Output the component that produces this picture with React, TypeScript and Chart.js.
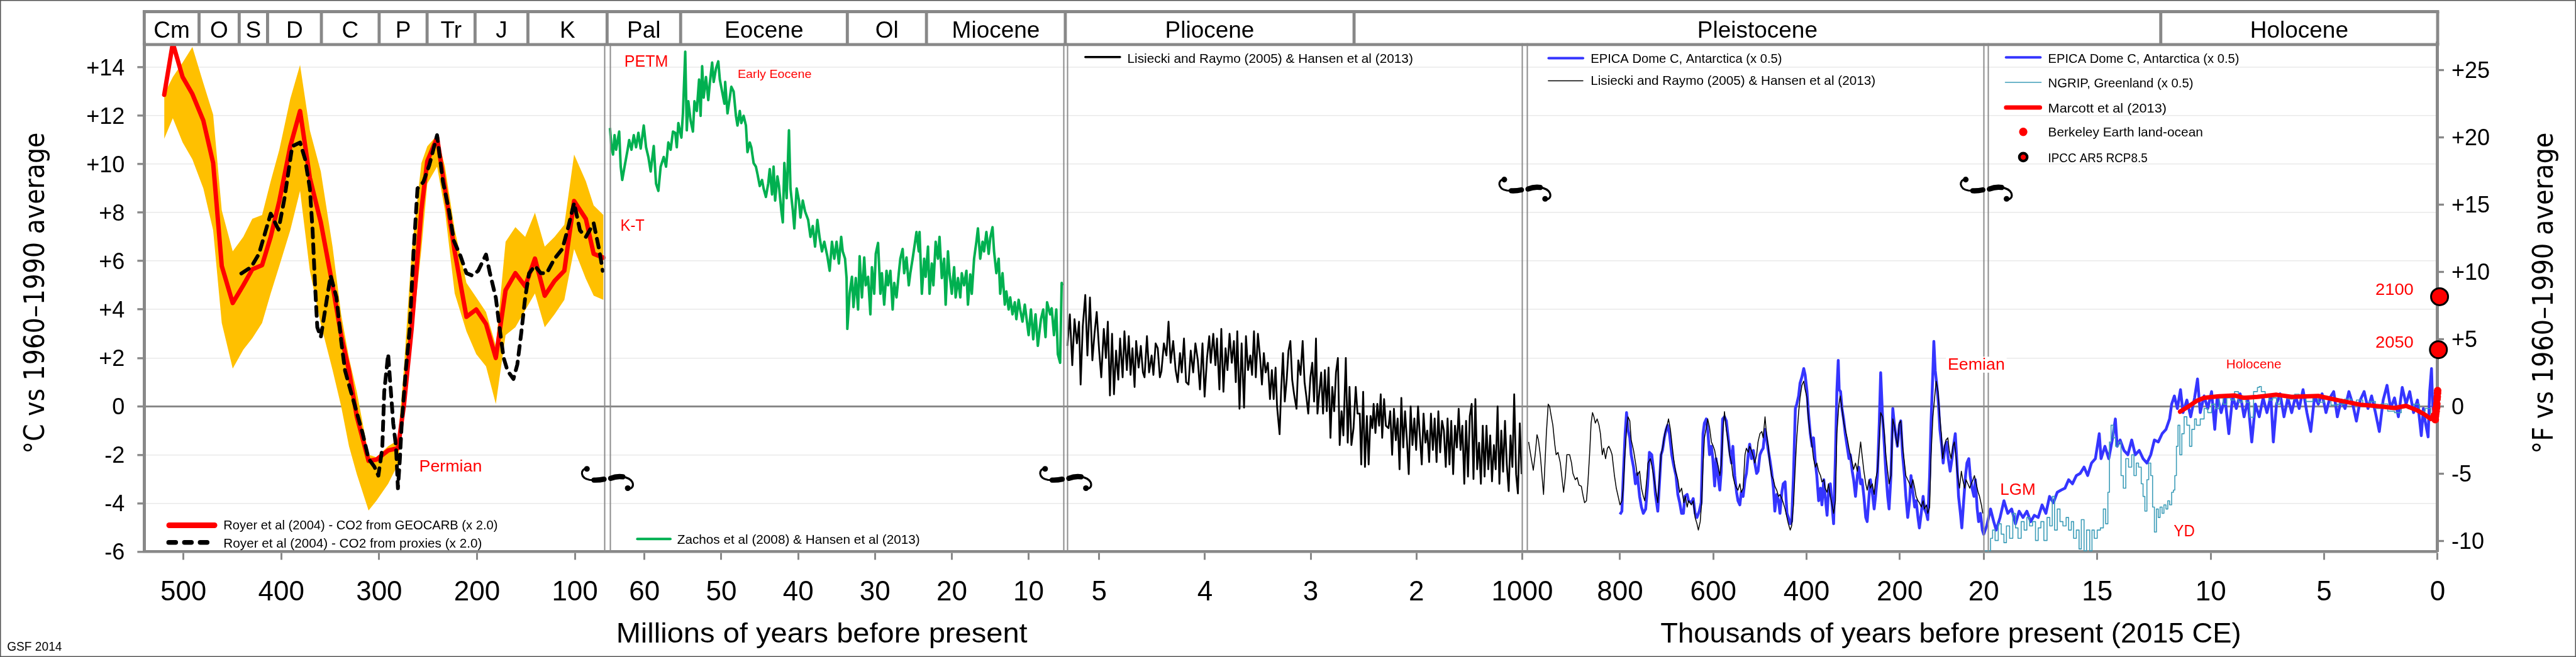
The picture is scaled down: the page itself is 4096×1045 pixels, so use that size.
import React, { useEffect, useRef } from "react";
import { Chart, registerables } from "chart.js";

Chart.register(...registerables);

// ======================= DATA =======================
// Royer et al (2004) – CO2 from GEOCARB (x 2.0), with its uncertainty envelope (Ma, °C)
const ROYER_AGE = [519.6,510.8,500.8,490.8,479.6,469.6,460.8,449.6,438.8,429.6,419.6,410.8,402,390.8,380.8,370.8,359.6,347.6,338.8,330.8,322.8,310.8,302.8,290.8,280.8,274.8,266.8,256.8,250.8,240.8,232.8,222.8,210.8,200.8,190.8,180.8,170.8,160.8,150.8,140.8,130.8,120.8,110.8,100.8,88.8,80.8,70.8];
const ROYER_GEOCARB = [12.87,15.0,13.6,12.9,11.8,10.05,5.8,4.27,5.0,5.66,5.83,7.0,8.48,10.74,12.2,9.44,7.6,5.0,2.94,1.47,-0.43,-2.25,-2.2,-1.82,-1.73,0,3.2,8.14,10.13,11.1,9.0,6.4,3.7,4.0,3.4,2.0,4.8,5.5,4.96,6.1,4.57,5.18,5.6,8.48,7.74,6.3,6.14];
const ROYER_HIGH = [12.9,13.6,14.2,14.84,13.35,12.05,8.1,6.4,7.0,7.75,7.9,9.3,10.6,12.7,14.1,11.4,9.7,6.6,3.8,2.0,0.6,-2.0,-2.1,-1.65,-1.4,1.5,6.4,10.05,10.74,11.2,9.9,7.3,5.1,4.5,3.9,2.5,6.8,7.4,7.0,8.0,6.6,7.0,7.5,10.4,9.3,8.3,7.9];
const ROYER_LOW = [11.05,11.9,10.9,10.2,9.0,7.27,3.44,1.56,2.34,2.81,3.44,4.66,5.8,7.27,8.9,5.6,3.4,1.5,0.0,-1.65,-2.8,-4.3,-3.9,-3.2,-2.4,0.3,2.7,6.5,9.2,9.9,8.1,4.66,3.1,2.16,1.65,0.1,2.94,3.27,3.97,4.66,3.27,3.8,4.4,6.5,5.27,4.57,4.4];
// Royer et al (2004) – CO2 from proxies (x 2.0)  [Ma, °C]
const ROYER_PROXY = [[440.8,5.49],[430.8,5.75],[422.8,6.3],[410.8,7.96],[402.8,7.3],[396.8,8.57],[388.8,10.74],[380.8,10.9],[375.6,10.2],[370.8,9.0],[368,7.27],[365.6,5.1],[363.2,3.27],[359.6,2.86],[349.6,5.4],[343.6,4.5],[338.8,2.7],[334.8,1.47],[328.8,0.6],[322.8,-0.26],[316.8,-1.13],[310.8,-2.16],[304.8,-2.5],[300.8,-2.86],[296.8,-1.73],[294.8,0.6],[290.8,2.16],[288.8,1.04],[285.6,-0.7],[282.8,-1.65],[280.8,-3.38],[278.8,-2.16],[276.8,-0.6],[272.8,1.47],[268.8,3.2],[264.8,6.4],[260.8,9.0],[254.8,9.27],[248.8,9.96],[240.8,11.2],[234.8,9.27],[228.8,8.13],[223.6,6.83],[216.8,6.2],[210.8,5.5],[204.8,5.4],[198.8,5.6],[190.8,6.27],[186.8,5.5],[180.8,4.49],[176.8,3.2],[172.8,2.0],[168.8,1.47],[162.8,1.13],[158.8,1.73],[154.8,3.03],[150.8,4.49],[146.8,5.5],[140.8,5.8],[134.8,5.5],[128.8,5.5],[120.8,6.1],[112.8,6.5],[106.8,7.4],[100.8,8.4],[94.8,7.27],[88.8,7.0],[80.8,7.56],[74.8,6.4],[71.6,5.6]];
// Zachos et al (2008) & Hansen et al (2013)  [Ma, °C]
const ZACHOS = [[64.5,11.5],[64.3,10.7],[64.1,10.4],[63.9,11.2],[63.7,10.6],[63.3,11.35],[63.1,9.9],[62.9,9.35],[62.6,9.9],[62.2,10.6],[62.0,11.0],[61.7,10.6],[61.4,11.2],[61.1,10.7],[60.8,11.3],[60.5,10.65],[60.1,11.6],[59.8,10.7],[59.5,10.3],[59.2,9.7],[58.8,10.75],[58.5,9.2],[58.2,8.9],[57.9,9.9],[57.5,10.3],[57.2,9.9],[56.9,10.9],[56.6,10.6],[56.3,11.35],[56.0,11.3],[55.8,10.7],[55.6,11.7],[55.2,11.1],[55.0,12.1],[54.7,14.65],[54.5,11.4],[54.3,12.6],[54.0,11.8],[53.7,11.35],[53.5,12.6],[53.2,12.2],[52.9,13.5],[52.7,12.0],[52.5,14.05],[52.3,12.75],[52.0,13.6],[51.7,12.65],[51.5,13.35],[51.2,14.2],[51.0,13.4],[50.7,13.95],[50.4,14.25],[50.2,13.5],[49.9,13.0],[49.6,12.5],[49.5,13.4],[49.2,12.1],[48.9,12.75],[48.7,13.2],[48.4,13.0],[48.1,12.0],[47.9,11.6],[47.6,12.2],[47.4,11.7],[47.1,12.0],[46.8,11.6],[46.6,10.5],[46.3,10.9],[46.1,10.7],[45.8,10.05],[45.5,9.9],[45.3,9.6],[45.0,9.1],[44.7,9.35],[44.5,9.0],[44.2,8.65],[43.9,9.2],[43.7,9.8],[43.4,8.75],[43.2,9.9],[43.0,8.5],[42.7,9.5],[42.5,9.1],[42.2,8.1],[42.0,7.6],[41.8,10.05],[41.5,8.6],[41.2,11.4],[41.0,9.0],[40.7,8.1],[40.5,7.35],[40.2,9.0],[39.9,8.5],[39.7,7.8],[39.4,8.5],[39.1,8.05],[38.7,7.7],[38.4,7.0],[38.1,7.45],[37.8,6.6],[37.5,7.7],[37.2,6.95],[36.9,6.4],[36.6,6.8],[36.2,6.2],[35.9,5.6],[35.6,6.8],[35.3,6.1],[35.0,6.8],[34.7,5.9],[34.4,7.0],[34.2,6.4],[33.9,6.1],[33.7,5.3],[33.6,3.2],[33.3,4.66],[33.0,5.35],[32.8,4.1],[32.5,5.3],[32.2,4.0],[32.0,6.2],[31.7,4.5],[31.4,6.15],[31.2,5.0],[30.9,5.35],[30.6,3.8],[30.4,5.75],[30.1,4.65],[29.9,6.3],[29.6,6.75],[29.3,4.65],[29.1,5.5],[28.8,4.2],[28.5,5.6],[28.3,5.0],[28.0,5.6],[27.7,4.0],[27.5,5.1],[27.2,4.5],[26.9,5.5],[26.7,6.1],[26.4,6.5],[26.2,5.5],[25.9,6.15],[25.6,5.0],[25.4,5.5],[25.1,6.1],[24.8,6.75],[24.6,7.2],[24.3,6.4],[24.2,7.2],[23.9,4.65],[23.6,6.1],[23.4,5.35],[23.1,6.6],[22.9,4.65],[22.6,5.9],[22.4,5.0],[22.1,6.8],[21.8,6.1],[21.6,7.0],[21.3,5.3],[21.0,6.1],[20.8,4.2],[20.5,6.4],[20.3,5.5],[20.0,4.65],[19.7,5.75],[19.5,4.5],[19.2,5.3],[18.9,4.5],[18.7,5.5],[18.4,5.0],[18.1,5.6],[17.9,4.2],[17.6,5.45],[17.4,4.65],[17.1,6.1],[16.8,6.8],[16.6,7.35],[16.3,6.1],[16.0,6.8],[15.8,6.4],[15.5,7.2],[15.2,6.3],[15.0,6.95],[14.7,7.4],[14.5,6.4],[14.2,5.5],[13.9,6.1],[13.7,4.65],[13.4,5.5],[13.1,4.2],[12.9,4.75],[12.6,4.0],[12.4,4.5],[12.1,3.8],[11.8,4.3],[11.6,3.6],[11.3,4.4],[11.1,4.0],[10.8,3.5],[10.5,4.2],[10.3,3.7],[10.0,2.94],[9.7,4.0],[9.4,2.77],[9.1,3.8],[8.8,2.5],[8.4,3.6],[8.1,4.0],[7.8,2.86],[7.6,4.3],[7.2,3.8],[7.0,4.05],[6.7,2.94],[6.4,4.0],[6.2,2.16],[5.9,1.8],[5.7,5.1],[5.6,5.0]];
// Lisiecki and Raymo (2005) & Hansen et al (2013), Pliocene panel  [Ma, °C]
const LR04_MA = [[5.3,2.5],[5.277,3.8],[5.254,1.7],[5.233,3.6],[5.21,2.6],[5.19,3.5],[5.175,0.9],[5.155,3.3],[5.131,4.6],[5.111,2.1],[5.087,4.5],[5.064,1.9],[5.044,3.0],[5.023,3.9],[5.0,2.3],[4.98,1.2],[4.956,3.2],[4.936,2.0],[4.918,3.5],[4.898,0.45],[4.878,3.0],[4.86,0.5],[4.84,2.3],[4.819,1.1],[4.802,2.8],[4.778,1.2],[4.761,3.1],[4.738,1.5],[4.72,2.9],[4.703,1.3],[4.685,2.4],[4.665,0.8],[4.65,2.7],[4.627,1.6],[4.606,2.5],[4.586,1.4],[4.571,1.2],[4.548,2.9],[4.528,1.4],[4.504,2.1],[4.487,1.3],[4.466,2.6],[4.446,2.4],[4.426,1.2],[4.411,1.45],[4.388,2.6],[4.364,2.1],[4.344,3.5],[4.324,1.8],[4.3,2.7],[4.277,1.5],[4.257,1.0],[4.236,2.2],[4.219,1.4],[4.198,2.8],[4.178,1.0],[4.155,0.9],[4.134,2.3],[4.111,1.4],[4.09,2.6],[4.067,1.9],[4.047,0.7],[4.023,2.6],[4.003,0.4],[3.98,2.0],[3.959,2.9],[3.945,1.8],[3.921,3.0],[3.901,1.7],[3.886,2.8],[3.863,0.7],[3.845,3.2],[3.825,0.6],[3.805,2.4],[3.787,1.5],[3.767,3.0],[3.746,1.8],[3.726,2.7],[3.708,1.0],[3.694,3.1],[3.673,-0.1],[3.653,2.6],[3.63,-0.05],[3.612,2.9],[3.592,1.5],[3.571,2.1],[3.554,1.3],[3.536,3.1],[3.519,1.2],[3.499,3.0],[3.478,2.0],[3.461,0.9],[3.443,2.2],[3.426,1.4],[3.405,1.8],[3.385,0.3],[3.367,1.5],[3.35,0.3],[3.332,1.6],[3.318,0.0],[3.294,-1.15],[3.28,0.6],[3.262,2.2],[3.245,0.2],[3.227,1.1],[3.21,2.3],[3.192,2.7],[3.175,1.1],[3.157,0.5],[3.134,-0.1],[3.117,1.9],[3.096,1.3],[3.076,2.7],[3.058,1.0],[3.041,0.4],[3.023,-0.3],[3.003,1.2],[2.985,1.8],[2.968,0.2],[2.95,2.8],[2.936,-0.3],[2.918,0.6],[2.901,1.4],[2.883,-0.3],[2.866,1.5],[2.848,-0.2],[2.831,1.6],[2.813,-1.3],[2.796,0.8],[2.778,-0.2],[2.761,1.4],[2.743,2.0],[2.726,-1.6],[2.708,-0.2],[2.691,-1.2],[2.668,2.0],[2.65,-1.5],[2.633,0.8],[2.615,-1.6],[2.595,-0.9],[2.574,0.8],[2.557,-0.3],[2.536,-0.3],[2.522,-2.4],[2.504,0.6],[2.487,-2.5],[2.469,-0.4],[2.452,-2.4],[2.434,-0.4],[2.417,-0.9],[2.405,0.1],[2.388,-1.1],[2.37,0.1],[2.353,-0.8],[2.338,0.5],[2.324,-1.3],[2.306,0.3],[2.289,-0.8],[2.265,-0.9],[2.248,-0.2],[2.23,-2.0],[2.213,-0.1],[2.195,-1.4],[2.178,-0.5],[2.16,-2.6],[2.143,0.35],[2.125,-1.7],[2.108,-0.2],[2.09,-1.4],[2.073,-2.8],[2.055,0.0],[2.038,-1.6],[2.02,-0.5],[2.003,-1.8],[1.985,0.0],[1.968,-1.2],[1.95,-2.4],[1.933,-0.3],[1.915,-1.5],[1.898,-1.0],[1.88,-2.3],[1.863,-0.3],[1.845,-1.8],[1.828,-0.5],[1.81,-2.3],[1.793,-0.2],[1.776,-1.9],[1.758,-0.6],[1.741,-1.0],[1.723,-2.5],[1.706,-0.5],[1.688,-2.4],[1.671,-0.6],[1.653,-2.8],[1.636,-0.8],[1.618,-1.7],[1.601,-0.1],[1.583,-1.8],[1.566,-0.8],[1.548,-3.2],[1.531,-0.6],[1.513,-2.9],[1.496,-0.4],[1.478,0.1],[1.461,-3.0],[1.443,0.3],[1.426,-2.6],[1.408,-1.5],[1.391,-3.2],[1.373,-0.8],[1.356,-2.9],[1.338,-0.8],[1.321,-2.6],[1.303,-1.2],[1.286,-3.1],[1.268,-1.6],[1.251,-2.6],[1.233,0.0],[1.216,-3.2],[1.198,-1.0],[1.181,-2.7],[1.163,-0.6],[1.146,-2.4],[1.128,-3.5],[1.111,-1.2],[1.093,-2.5],[1.076,0.5],[1.058,-2.8],[1.041,-3.6],[1.023,-0.7],[1.006,-2.8]];
// Lisiecki and Raymo (2005) & Hansen et al (2013), Pleistocene panel  [ka, °C]
const LR04_KA = [[996,-1.47],[991,-2.08],[986,-2.64],[982,-2.0],[978,-1.17],[975,-1.39],[971,-2.0],[964,-3.64],[958,-1.13],[954,0.09],[951,0.0],[948,-0.35],[944,-0.78],[940,-1.56],[937,-2.0],[933,-1.9],[928,-2.34],[924,-3.03],[921,-3.55],[917,-2.86],[914,-2.0],[908,-2.0],[904,-2.34],[901,-2.77],[896,-3.03],[892,-2.94],[888,-3.25],[883,-3.3],[879,-3.72],[876,-3.98],[872,-3.9],[869,-3.2],[865,-1.9],[862,-0.69],[859,-0.26],[856,-0.43],[853,-0.69],[849,-0.52],[845,-0.78],[842,-1.13],[838,-2.0],[835,-1.73],[831,-2.16],[827,-1.73],[824,-1.65],[820,-1.82],[817,-2.0],[812,-2.86],[808,-3.38],[804,-3.72],[800,-4.07],[796,-3.9],[793,-3.38],[790,-2.16],[786,-0.95],[783,-0.43],[779,-0.6],[776,-1.39],[771,-1.82],[766,-2.42],[763,-2.86],[758,-2.68],[754,-3.38],[750,-3.72],[747,-3.9],[742,-2.86],[740,-2.34],[735,-2.16],[732,-2.42],[728,-2.86],[724,-3.38],[719,-3.98],[715,-2.86],[712,-2.0],[708,-1.65],[704,-1.13],[699,-0.78],[696,-0.52],[692,-0.95],[688,-1.65],[685,-2.16],[681,-2.68],[676,-3.03],[672,-3.55],[668,-3.38],[663,-3.98],[660,-3.72],[656,-4.16],[653,-3.9],[647,-4.07],[643,-3.9],[639,-4.59],[635,-4.85],[632,-5.11],[628,-4.76],[625,-3.98],[622,-2.42],[619,-1.3],[614,-0.78],[612,-0.52],[608,-0.87],[604,-1.47],[600,-1.65],[597,-1.82],[594,-2.16],[590,-2.42],[586,-2.86],[583,-2.42],[579,-0.95],[576,-0.22],[572,-0.95],[568,-1.47],[565,-2.0],[561,-2.34],[558,-2.86],[554,-3.2],[550,-3.38],[547,-3.46],[543,-3.2],[540,-3.55],[536,-3.38],[532,-2.0],[529,-1.73],[525,-1.9],[522,-1.65],[518,-1.82],[514,-2.08],[511,-2.34],[507,-2.0],[504,-1.47],[500,-1.13],[496,-1.04],[493,-1.3],[489,-0.43],[486,-1.13],[482,-1.65],[479,-2.34],[475,-2.86],[471,-3.03],[468,-3.3],[464,-3.46],[460,-3.72],[457,-3.64],[453,-3.81],[450,-3.98],[446,-4.24],[442,-4.59],[439,-4.85],[435,-5.11],[432,-4.94],[428,-4.07],[424,-2.42],[421,-1.3],[417,-0.26],[414,0.35],[410,0.87],[406,1.04],[403,0.69],[399,0.35],[396,-0.52],[392,-1.13],[388,-1.65],[385,-2.16],[381,-2.51],[378,-2.34],[374,-2.68],[370,-2.86],[367,-3.12],[363,-3.03],[360,-3.38],[356,-3.55],[353,-3.2],[349,-3.72],[346,-3.98],[342,-4.42],[338,-3.9],[335,-1.13],[331,0.0],[328,0.43],[324,-0.09],[320,-0.69],[317,-0.95],[313,-1.3],[309,-1.73],[306,-2.0],[302,-2.34],[299,-2.6],[295,-2.34],[291,-2.68],[288,-2.16],[284,-1.47],[281,-2.0],[277,-2.68],[273,-3.2],[270,-3.46],[266,-3.03],[263,-3.38],[259,-3.2],[255,-3.64],[252,-3.03],[248,-2.68],[244,-1.47],[241,-0.26],[237,-0.43],[233,-1.13],[230,-2.0],[226,-2.68],[223,-3.2],[219,-2.86],[215,-0.52],[212,-0.78],[208,-1.3],[205,-1.65],[201,-0.69],[198,-0.6],[194,-1.65],[190,-2.34],[187,-2.86],[183,-3.03],[179,-3.2],[176,-3.38],[172,-3.03],[168,-3.38],[165,-3.72],[161,-3.9],[158,-3.98],[154,-4.16],[150,-3.9],[147,-4.24],[143,-4.07],[140,-4.42],[136,-4.16],[133,-2.0],[129,-0.43],[125,0.43],[122,1.04],[118,0.61],[115,-0.26],[111,-1.13],[108,-2.16],[104,-1.65],[101,-1.39],[97,-1.3],[94,-1.82],[90,-2.16],[86,-1.65],[83,-1.47],[79,-2.16],[76,-2.86],[72,-3.38],[68,-2.68],[65,-3.03],[61,-3.38],[58,-3.03],[54,-3.2],[50,-3.38],[47,-3.2],[43,-3.03],[40,-2.86],[36,-3.2],[32,-3.55],[29,-3.72],[25,-4.07],[22,-4.42]];
// EPICA Dome C, Antarctica (x 0.5)  [ka, °C]
const EPICA_GLACIAL = [[800,-4.46],[796,-4.33],[793,-2.86],[789,-1.13],[786,-0.26],[783,-0.95],[779,-1.3],[776,-2.0],[771,-2.51],[767,-3.2],[763,-2.77],[758,-3.72],[754,-4.16],[750,-4.42],[745,-4.24],[741,-3.29],[737,-1.9],[732,-2.0],[728,-2.68],[724,-3.64],[719,-4.33],[715,-3.03],[712,-2.0],[709,-1.82],[705,-1.3],[701,-0.95],[698,-0.78],[694,-1.13],[689,-2.0],[685,-2.42],[680,-2.86],[676,-3.64],[672,-3.98],[668,-4.42],[664,-4.42],[661,-3.72],[656,-3.64],[653,-3.9],[647,-3.98],[643,-3.81],[639,-4.42],[635,-4.59],[630,-4.33],[626,-3.98],[622,-1.13],[619,-0.69],[615,-0.52],[612,-0.95],[608,-2.0],[604,-1.65],[601,-2.16],[597,-3.29],[594,-2.16],[590,-2.86],[586,-3.46],[583,-2.68],[580,-0.52],[576,-0.43],[572,-0.6],[568,-1.3],[565,-1.82],[561,-2.34],[558,-1.65],[554,-2.86],[550,-3.55],[547,-3.9],[543,-4.07],[540,-3.55],[536,-3.72],[532,-3.03],[529,-2.77],[525,-2.0],[522,-1.56],[518,-2.16],[514,-1.82],[511,-2.34],[507,-2.77],[504,-2.68],[500,-2.0],[496,-1.82],[493,-1.73],[489,-0.95],[486,-1.3],[482,-1.82],[479,-2.16],[475,-2.68],[471,-3.38],[468,-4.33],[464,-3.64],[460,-3.9],[457,-4.42],[453,-3.55],[450,-3.2],[446,-3.12],[442,-4.42],[439,-4.59],[435,-4.85],[432,-4.76],[428,-2.86],[424,-0.09],[421,0.09],[417,0.43],[414,0.95],[410,1.21],[406,1.56],[403,1.3],[399,0.61],[396,-0.26],[392,-1.13],[388,-1.65],[385,-1.3],[381,-2.34],[378,-2.86],[374,-3.9],[370,-3.38],[367,-4.07],[363,-3.03],[360,-3.72],[356,-4.5],[353,-3.55],[349,-3.2],[346,-3.9],[342,-4.85],[338,-2.0],[335,0.61],[332,1.9],[330,0.69],[327,0.61],[324,-0.09],[320,-0.6],[317,-1.13],[313,-1.65],[309,-2.16],[306,-2.0],[302,-2.68],[299,-3.03],[295,-3.72],[291,-2.86],[288,-2.51],[284,-3.2],[281,-3.03],[277,-3.72],[273,-4.59],[270,-4.76],[266,-3.72],[263,-3.03],[259,-3.55],[255,-4.24],[252,-3.72],[248,-2.86],[244,-0.69],[241,1.39],[237,-0.43],[233,-1.65],[230,-2.68],[226,-3.72],[223,-4.24],[219,-2.86],[215,-0.09],[212,-0.69],[208,-1.3],[205,-1.65],[201,-0.78],[198,-0.6],[194,-2.0],[190,-2.86],[187,-3.72],[183,-4.59],[179,-3.9],[176,-2.86],[172,-3.55],[168,-4.16],[165,-3.9],[161,-4.59],[158,-5.02],[154,-4.42],[150,-3.72],[147,-4.24],[143,-4.42],[140,-4.68],[136,-2.86],[133,-0.69],[129,1.47],[127,2.68],[124,1.47],[121,0.95],[117,0.09],[114,-0.95],[110,-1.65],[107,-2.34],[103,-1.65],[100,-1.47],[96,-2.16],[92,-2.68],[88,-2.16],[85,-1.65],[81,-1.13],[77,-2.51],[74,-3.72],[70,-4.42],[67,-5.02],[63,-3.9],[59,-2.86],[56,-2.34],[52,-2.16],[49,-2.86],[45,-3.38],[41,-3.72],[38,-3.03],[34,-4.24],[31,-4.76],[27,-4.42],[23,-5.11],[20,-5.28]];
const EPICA_RECENT = [[19.87,-4.94],[19.7,-4.24],[19.56,-4.76],[19.45,-5.11],[19.28,-4.59],[19.11,-3.9],[18.94,-4.42],[18.77,-4.24],[18.6,-4.85],[18.44,-4.33],[18.27,-4.59],[18.1,-4.33],[17.93,-4.76],[17.77,-4.5],[17.6,-4.59],[17.43,-4.07],[17.26,-4.42],[17.1,-3.72],[16.93,-3.98],[16.76,-3.55],[16.59,-3.46],[16.42,-3.38],[16.26,-3.03],[16.09,-3.2],[15.92,-2.86],[15.75,-2.77],[15.58,-2.51],[15.42,-2.86],[15.25,-2.34],[15.08,-2.16],[14.91,-1.13],[14.83,-2.16],[14.66,-1.65],[14.49,-2.16],[14.32,-1.3],[14.2,-0.52],[14.12,-1.65],[13.99,-1.39],[13.82,-1.82],[13.65,-2.0],[13.48,-1.39],[13.32,-2.0],[13.15,-1.82],[12.98,-2.16],[12.81,-2.34],[12.64,-2.0],[12.48,-1.39],[12.31,-1.47],[12.14,-1.13],[11.97,-0.95],[11.81,-0.52],[11.72,0.09],[11.6,0.43],[11.47,-0.09],[11.33,0.69],[11.22,-0.26],[11.05,0.26],[10.88,-0.43],[10.71,0.35],[10.58,1.13],[10.46,-0.26],[10.29,0.43],[10.13,-0.09],[9.96,0.61],[9.82,-0.95],[9.71,0.43],[9.54,-0.26],[9.37,0.35],[9.2,-1.13],[9.03,0.43],[8.87,-0.09],[8.7,0.52],[8.53,-0.43],[8.36,0.26],[8.19,-1.47],[8.03,0.09],[7.86,-0.43],[7.69,0.35],[7.52,-0.26],[7.35,0.43],[7.24,-1.47],[7.1,0.09],[6.94,0.52],[6.77,-0.43],[6.6,0.35],[6.43,-0.26],[6.26,0.43],[6.1,-0.09],[5.93,0.69],[5.76,-0.26],[5.59,-1.04],[5.42,0.43],[5.26,0.09],[5.09,0.52],[4.92,-0.26],[4.75,0.35],[4.58,0.61],[4.42,-0.43],[4.25,0.26],[4.08,-0.09],[3.91,0.61],[3.74,0.09],[3.58,-0.61],[3.41,0.26],[3.24,0.61],[3.07,-0.09],[2.91,0.43],[2.74,-0.26],[2.57,-1.04],[2.4,0.26],[2.23,0.87],[2.07,-0.09],[1.9,0.35],[1.73,-0.43],[1.56,0.78],[1.39,0.09],[1.23,0.61],[1.06,-0.26],[0.89,0.26],[0.72,-1.21],[0.63,-0.09],[0.55,-0.61],[0.42,-1.26],[0.35,0.61],[0.27,1.56],[0.22,0.09],[0.17,-0.26],[0.12,-0.43]];
// NGRIP, Greenland (x 0.5)  [ka, °C]
const NGRIP = [[19.95,-5.97],[19.78,-5.97],[19.7,-5.45],[19.61,-5.11],[19.5,-5.54],[19.36,-4.85],[19.23,-5.28],[19.11,-5.63],[19.0,-4.94],[18.86,-5.45],[18.72,-4.42],[18.6,-5.02],[18.49,-5.45],[18.35,-4.76],[18.22,-5.11],[18.1,-4.59],[17.98,-4.94],[17.85,-4.76],[17.72,-5.54],[17.6,-5.02],[17.48,-4.76],[17.35,-5.54],[17.21,-4.59],[17.09,-4.94],[16.98,-3.72],[16.88,-5.11],[16.76,-4.24],[16.64,-4.76],[16.51,-4.94],[16.37,-4.59],[16.26,-5.11],[16.14,-4.76],[16.04,-5.45],[15.92,-5.11],[15.8,-5.89],[15.7,-4.68],[15.58,-5.97],[15.47,-5.11],[15.33,-5.97],[15.23,-5.11],[15.13,-5.45],[15.0,-5.11],[14.86,-5.02],[14.73,-4.24],[14.63,-4.85],[14.53,-3.55],[14.46,-1.47],[14.39,-0.78],[14.29,-1.3],[14.19,-1.65],[14.07,-1.47],[13.95,-2.86],[13.85,-3.38],[13.74,-2.16],[13.62,-2.51],[13.48,-2.0],[13.38,-2.86],[13.28,-2.34],[13.18,-2.51],[13.06,-3.2],[12.98,-3.72],[12.9,-4.33],[12.81,-3.03],[12.73,-2.34],[12.64,-2.86],[12.56,-4.16],[12.48,-5.19],[12.39,-4.24],[12.31,-4.59],[12.23,-4.16],[12.14,-4.42],[12.06,-4.07],[11.97,-4.24],[11.89,-3.9],[11.81,-4.07],[11.72,-3.55],[11.64,-3.46],[11.58,-2.86],[11.51,-1.65],[11.44,-0.78],[11.36,-2.0],[11.27,-1.13],[11.17,-0.43],[11.05,-0.78],[10.93,-1.65],[10.83,-0.95],[10.71,-0.52],[10.63,-0.78],[10.46,-0.52],[10.29,-0.09],[10.13,-0.26],[9.96,0.09],[9.79,-0.09],[9.62,0.35],[9.45,0.09],[9.29,0.35],[9.12,0.26],[8.95,0.61],[8.78,0.17],[8.61,0.43],[8.45,0.17],[8.28,-0.45],[8.11,0.61],[7.94,0.78],[7.86,0.82],[7.77,0.61],[7.6,0.43],[7.44,0.26],[7.27,0.35],[7.1,0.09],[6.94,0.43],[6.6,0.3],[6.3,0.5],[6.1,0.35],[5.8,0.2],[5.5,0.45],[5.26,0.17],[5.0,0.3],[4.7,0.05],[4.42,0.09],[4.1,0.3],[3.8,0.1],[3.58,0.26],[3.3,0.0],[3.0,0.2],[2.74,-0.09],[2.5,0.1],[2.2,-0.2],[1.9,-0.26],[1.6,0.0],[1.3,-0.1],[1.06,0.09],[0.8,-0.2],[0.55,-0.09],[0.3,-0.3],[0.1,0.0]];
// Marcott et al (2013)  [ka, °C]
const MARCOTT = [[11.35,-0.22],[10.97,0.0],[10.63,0.22],[10.29,0.35],[9.62,0.42],[8.95,0.45],[8.53,0.35],[7.94,0.39],[7.1,0.48],[6.43,0.39],[5.26,0.43],[4.42,0.26],[3.41,0.07],[2.57,0.0],[1.9,-0.07],[1.39,0.02],[0.89,-0.17],[0.55,-0.35],[0.3,-0.52],[0.15,-0.35],[0.08,0.2]];
// Berkeley Earth land-ocean  [calendar year, °C]
const BERKELEY = [[1850,-0.4],[1860,-0.45],[1870,-0.4],[1880,-0.45],[1890,-0.5],[1900,-0.45],[1910,-0.55],[1920,-0.4],[1930,-0.3],[1940,-0.1],[1950,-0.2],[1960,-0.05],[1970,-0.05],[1980,0.1],[1990,0.3],[2000,0.4],[2010,0.55],[2015,0.65]];
// IPCC AR5 RCP8.5  [calendar year, °C]
const IPCC = [[2050,2.34],[2100,4.53]];
const PRESENT_YEAR = 2015;

// axis ticks
const C_TICKS = [-6,-4,-2,0,2,4,6,8,10,12,14];
const F_TICKS = [-10,-5,0,5,10,15,20,25];
const X_TICK_SEG = [0,0,0,0,0,1,1,1,1,1,1,2,2,2,2,2,3,3,3,3,3,4,4,4,4];
const X_TICK_AGE = [500,400,300,200,100,60,50,40,30,20,10,5,4,3,2,1,800,600,400,200,20,15,10,5,0];
const X_TICK_LABEL = ["500","400","300","200","100","60","50","40","30","20","10","5","4","3","2","1000","800","600","400","200","20","15","10","5","0"];

// geological time header
const PERIOD_NAME = ["Cm","O","S","D","C","P","Tr","J","K","Pal","Eocene","Ol","Miocene","Pliocene","Pleistocene","Holocene"];
const PERIOD_SEG_START = [0,0,0,0,0,0,0,0,0,1,1,1,1,2,2,4];
const PERIOD_START = [540,484,443,414,359,300,251,202,148,64.5,55.3,33.6,23.3,5.3,2.59,12.2];
const PERIOD_SEG_END = [0,0,0,0,0,0,0,0,0,1,1,1,1,2,4,4];
const PERIOD_END = [484,443,414,359,300,251,202,148,70,55.3,33.6,23.3,5.5,2.59,12.2,0];

// red annotations
const NOTE_TEXT = ["Permian","PETM","Early Eocene","K-T","Eemian","LGM","YD","Holocene","2100","2050"];
const NOTE_SEG = [0,1,1,1,3,4,4,4,4,4];
const NOTE_AGE = [259.1,62.62,47.88,63.14,97.2,19.28,11.63,9.32,1.06,1.06];
const NOTE_T = [-2.68,14.03,13.56,7.26,1.51,-3.66,-5.37,1.57,4.6,2.43];

// ======================= LAYOUT =======================
const W = 4096, H = 1045, K = 0.698;
const FONT = "'Liberation Sans', Arial, sans-serif";
const VFONT = "'DejaVu Sans', Verdana, sans-serif";
const RED = "#ff0000", ORANGE = "#ffc000", GREEN = "#00b050", BLUE = "#3535ff", TEAL = "#3d9db8", GRAY = "#888888";

// five panels of the broken time axis, in reference-pixel units
const SEG_FROM = [540, 64.5, 5.3, 1000, 20];
const SEG_TO = [70, 5.5, 1.0, 20, 0];
const SEG_X0 = [328.6, 1389.5, 2431.6, 3478, 4519];
const SEG_X1 = [1376.5, 2422, 3467.7, 4519, 5553];
const X_MIN = 328.6, X_MAX = 5553;
const SEP_A = [1376.5, 2422, 3467.7, 4519];
const SEP_B = [1389.5, 2431.6, 3478, 4529];
const BREAK_T = [-3.0, -3.0, 8.95, 8.95];

function toX(seg: number, age: number) {
  return SEG_X0[seg] + (SEG_FROM[seg] - age) * (SEG_X1[seg] - SEG_X0[seg]) / (SEG_FROM[seg] - SEG_TO[seg]);
}
const kaSeg = (a: number) => (a >= 20 ? 3 : 4);
const pairs = (seg: (a: number) => number, list: number[][]) => list.map(([a, v]) => ({ x: toX(seg(a), a), y: v }));
const R = (v: number) => v * K;

function drawText(ctx: any, s: string, x: number, y: number, size: number, o: any = {}) {
  ctx.save();
  ctx.font = `${size}px ${o.family || FONT}`;
  ctx.textBaseline = "alphabetic";
  ctx.textAlign = "left";
  const m = ctx.measureText(s).width || 1;
  const sx = o.width ? o.width / m : 1;
  const w = m * sx;
  let x0 = x;
  if (o.align === "center") x0 = x - w / 2;
  else if (o.align === "right") x0 = x - w;
  if (o.bg) {
    ctx.fillStyle = o.bg;
    ctx.fillRect(x0 - 3, y - size * 0.82, w + 6, size * 1.0);
  }
  ctx.fillStyle = o.color || "#000";
  ctx.translate(x0, y);
  ctx.scale(sx, 1);
  ctx.fillText(s, 0, 0);
  ctx.restore();
}

function drawVText(ctx: any, s: string, bx: number, cy: number, size: number, len: number) {
  ctx.save();
  ctx.font = `${size}px ${VFONT}`;
  ctx.fillStyle = "#000";
  ctx.textBaseline = "alphabetic";
  ctx.textAlign = "left";
  const m = ctx.measureText(s).width || 1;
  ctx.translate(bx, cy);
  ctx.rotate(-Math.PI / 2);
  ctx.scale(len / m, 1);
  ctx.fillText(s, -m / 2, 0);
  ctx.restore();
}

function swirl(ctx: any, cx: number, cy: number) {
  ctx.save();
  ctx.translate(cx, cy);
  ctx.scale(K, K);
  ctx.fillStyle = "#000";
  ctx.strokeStyle = "#000";
  ctx.lineCap = "round";
  ctx.lineJoin = "round";
  ctx.lineWidth = 4.5;
  ctx.beginPath();
  ctx.moveTo(-46, -25);
  ctx.bezierCurveTo(-62, -22, -62, -2, -40, 2);
  ctx.quadraticCurveTo(-22, 4, -5, 0);
  ctx.stroke();
  ctx.lineWidth = 12;
  ctx.beginPath();
  ctx.moveTo(-30, 2.5);
  ctx.quadraticCurveTo(-18, 3, -7, 0.5);
  ctx.stroke();
  ctx.beginPath();
  ctx.arc(-46, -23, 6.5, 0, Math.PI * 2);
  ctx.fill();
  ctx.lineWidth = 4.5;
  ctx.beginPath();
  ctx.moveTo(5, 0);
  ctx.bezierCurveTo(20, -8, 50, -8, 58, 8);
  ctx.quadraticCurveTo(62, 20, 49, 23);
  ctx.stroke();
  ctx.lineWidth = 12;
  ctx.beginPath();
  ctx.moveTo(8, -1.5);
  ctx.quadraticCurveTo(22, -7, 36, -5);
  ctx.stroke();
  ctx.beginPath();
  ctx.arc(47, 21, 6.5, 0, Math.PI * 2);
  ctx.fill();
  ctx.restore();
}

const decorPlugin = {
  id: "decor",
  afterDraw(chart: any) {
    const ctx = chart.ctx;
    const ca = chart.chartArea;
    const xs = chart.scales.x;
    const ys = chart.scales.y;
    const vx = (v: number) => xs.getPixelForValue(v);
    const ax = (seg: number, age: number) => vx(toX(seg, age));
    const ty = (t: number) => ys.getPixelForValue(t);

    ctx.save();
    // panel separators (double rules)
    ctx.strokeStyle = "#8c8c8c";
    ctx.lineWidth = 2;
    for (let i = 0; i < SEP_A.length; i++) {
      for (const v of [SEP_A[i], SEP_B[i]]) {
        const x = Math.round(vx(v)) + 0.5;
        ctx.beginPath();
        ctx.moveTo(x, ca.top);
        ctx.lineTo(x, ca.bottom);
        ctx.stroke();
      }
    }
    for (let i = 0; i < SEP_A.length; i++) swirl(ctx, (vx(SEP_A[i]) + vx(SEP_B[i])) / 2, ty(BREAK_T[i]));

    // header with geological periods
    const n = PERIOD_NAME.length;
    const edges: number[] = [ax(PERIOD_SEG_START[0], PERIOD_START[0])];
    for (let i = 0; i < n - 1; i++) {
      edges.push((ax(PERIOD_SEG_END[i], PERIOD_END[i]) + ax(PERIOD_SEG_START[i + 1], PERIOD_START[i + 1])) / 2);
    }
    edges.push(ax(PERIOD_SEG_END[n - 1], PERIOD_END[n - 1]));
    const hTop = R(26.5), hBot = R(101.5);
    ctx.strokeStyle = GRAY;
    ctx.lineWidth = R(7);
    ctx.beginPath();
    ctx.moveTo(edges[0] - R(3.5), hTop);
    ctx.lineTo(edges[n] + R(3.5), hTop);
    ctx.moveTo(edges[0] - R(3.5), hBot);
    ctx.lineTo(edges[n] + R(3.5), hBot);
    ctx.stroke();
    for (const e of edges) {
      ctx.beginPath();
      ctx.moveTo(e, hTop);
      ctx.lineTo(e, hBot);
      ctx.stroke();
    }
    for (let i = 0; i < n; i++) {
      drawText(ctx, PERIOD_NAME[i], (edges[i] + edges[i + 1]) / 2, R(86), R(53), { align: "center" });
    }

    // red annotations
    const noteSize = [36.5, 37, 26, 37, 36.5, 36.5, 38, 28.5, 36.5, 36.5];
    const noteW = [143, 99.6, 168.4, 55, 130, 81, 48, 126, 87, 87];
    for (let i = 0; i < NOTE_TEXT.length; i++) {
      const right = NOTE_TEXT[i] === "2100" || NOTE_TEXT[i] === "2050";
      drawText(ctx, NOTE_TEXT[i], ax(NOTE_SEG[i], NOTE_AGE[i]), ty(NOTE_T[i]), R(noteSize[i]), {
        color: RED, width: R(noteW[i]), align: right ? "right" : "left", bg: NOTE_TEXT[i] === "Eemian" ? "#fff" : undefined,
      });
    }

    // legends
    const LS = R(30);
    const line = (x1: number, x2: number, y: number, color: string, lw: number, dash?: number[]) => {
      ctx.save();
      ctx.strokeStyle = color;
      ctx.lineWidth = lw;
      ctx.lineCap = "round";
      if (dash) ctx.setLineDash(dash);
      ctx.beginPath();
      ctx.moveTo(R(x1) + lw / 2, R(y));
      ctx.lineTo(R(x2) - lw / 2, R(y));
      ctx.stroke();
      ctx.restore();
    };
    const dot = (x: number, y: number, r: number, fill: string, stroke?: string, sw?: number) => {
      ctx.save();
      ctx.beginPath();
      ctx.arc(R(x), R(y), R(r), 0, Math.PI * 2);
      ctx.fillStyle = fill;
      ctx.fill();
      if (stroke) {
        ctx.lineWidth = sw;
        ctx.strokeStyle = stroke;
        ctx.stroke();
      }
      ctx.restore();
    };
    const ltext = (s: string, x: number, y: number, w: number) => drawText(ctx, s, R(x), R(y), LS, { width: R(w) });

    line(379, 495, 1197, RED, 9);
    ltext("Royer et al (2004) - CO2 from GEOCARB (x 2.0)", 509, 1206.7, 625);
    line(379, 489, 1236, "#000", 7.5, [11, 14]);
    ltext("Royer et al (2004) - CO2 from proxies (x 2.0)", 509, 1247.2, 589);

    line(1449, 1530, 1228.3, GREEN, 4);
    ltext("Zachos et al (2008) & Hansen et al (2013)", 1542.6, 1239, 553);

    line(2470, 2554, 130, "#000", 3.3);
    ltext("Lisiecki and Raymo (2005) & Hansen et al (2013)", 2568, 143.5, 651);

    line(3525, 3609, 132.5, BLUE, 4);
    ltext("EPICA Dome C, Antarctica (x 0.5)", 3623.5, 143.5, 436);
    line(3526, 3607, 184, "#000", 1.4);
    ltext("Lisiecki and Raymo (2005) & Hansen et al (2013)", 3623.5, 193.8, 649);

    line(4567, 4651, 130.6, BLUE, 4);
    ltext("EPICA Dome C, Antarctica (x 0.5)", 4665.5, 142.6, 435.6);
    line(4567, 4651, 187.6, TEAL, 1.6);
    ltext("NGRIP, Greenland (x 0.5)", 4665.5, 199.5, 331);
    line(4565, 4652, 245, RED, 7);
    ltext("Marcott et al (2013)", 4665.5, 256, 270);
    dot(4609, 300.5, 9.5, RED);
    ltext("Berkeley Earth land-ocean", 4665.5, 311, 353);
    dot(4609, 358, 9, RED, "#000", R(6));
    ltext("IPCC AR5 RCP8.5", 4665.5, 369.4, 226.5);

    // axis titles
    drawText(ctx, "Millions of years before present", R(1872), R(1463.6), R(63), { align: "center", width: R(937) });
    drawText(ctx, "Thousands of years before present (2015 CE)", R(4444), R(1463.6), R(63), { align: "center", width: R(1323) });
    drawVText(ctx, "°C vs 1960–1990 average", R(100), R(668), R(63), R(732));
    drawVText(ctx, "°F vs 1960–1990 average", R(5815), R(668), R(63), R(732));
    drawText(ctx, "GSF 2014", R(16), R(1482.6), R(28.6), { width: R(125) });

    // outer frame
    ctx.strokeStyle = "#555";
    ctx.lineWidth = 1.5;
    ctx.strokeRect(0.75, 0.75, W - 1.5, H - 1.5);
    ctx.restore();
  },
};

export default function App() {
  const ref = useRef<HTMLCanvasElement>(null);
  useEffect(() => {
    document.body.style.margin = "0";
    const lineBase = { pointRadius: 0, borderJoinStyle: "round", tension: 0, fill: false };
    const chart = new Chart(ref.current as HTMLCanvasElement, {
      type: "line",
      data: {
        datasets: [
          { ...lineBase, label: "envelope high", data: ROYER_AGE.map((a, i) => ({ x: toX(0, a), y: ROYER_HIGH[i] })), borderWidth: 0, borderColor: ORANGE, backgroundColor: ORANGE, fill: "+1", order: 30 },
          { ...lineBase, label: "envelope low", data: ROYER_AGE.map((a, i) => ({ x: toX(0, a), y: ROYER_LOW[i] })), borderWidth: 0, borderColor: ORANGE, order: 30 },
          { ...lineBase, label: "Royer GEOCARB", data: ROYER_AGE.map((a, i) => ({ x: toX(0, a), y: ROYER_GEOCARB[i] })), borderColor: RED, borderWidth: 7, borderCapStyle: "round", order: 20 },
          { ...lineBase, label: "Royer proxies", data: pairs(() => 0, ROYER_PROXY), borderColor: "#000", borderWidth: 6, borderDash: [14, 11], borderCapStyle: "round", order: 19 },
          { ...lineBase, label: "Zachos", data: pairs(() => 1, ZACHOS), borderColor: GREEN, borderWidth: 4, order: 18 },
          { ...lineBase, label: "LR04 Ma", data: pairs(() => 2, LR04_MA), borderColor: "#000", borderWidth: 2.8, order: 17 },
          { ...lineBase, label: "EPICA", data: pairs(kaSeg, [...EPICA_GLACIAL, ...EPICA_RECENT]), borderColor: BLUE, borderWidth: 4.5, order: 16 },
          { ...lineBase, label: "LR04 ka", data: pairs(kaSeg, LR04_KA), borderColor: "#000", borderWidth: 1.5, order: 15 },
          { ...lineBase, label: "NGRIP", data: pairs(kaSeg, NGRIP), borderColor: TEAL, borderWidth: 1.6, stepped: true, order: 14 },
          { ...lineBase, label: "Marcott", data: pairs(kaSeg, MARCOTT), borderColor: RED, borderWidth: 7, borderCapStyle: "round", order: 13 },
          { label: "Berkeley", data: BERKELEY.map(([yr, v]) => ({ x: toX(4, (PRESENT_YEAR - yr) / 1000), y: v })), showLine: false, pointRadius: 6, pointBackgroundColor: RED, pointBorderWidth: 0, backgroundColor: RED, borderColor: RED, clip: false, order: 12 },
          { label: "IPCC", data: IPCC.map(([yr, v]) => ({ x: toX(4, (PRESENT_YEAR - yr) / 1000), y: v })), showLine: false, pointRadius: 13.5, pointBackgroundColor: RED, pointBorderColor: "#000", pointBorderWidth: 3, backgroundColor: RED, borderColor: "#000", clip: false, order: 11 },
        ],
      },
      options: {
        responsive: false,
        maintainAspectRatio: false,
        animation: false,
        devicePixelRatio: 1,
        events: [],
        parsing: false,
        layout: { padding: { top: R(98.4), left: 0, right: 0, bottom: 0 } },
        plugins: { legend: { display: false }, tooltip: { enabled: false } },
        scales: {
          x: {
            type: "linear",
            min: X_MIN,
            max: X_MAX,
            afterFit: (s: any) => { s.height = H - R(1257); },
            afterBuildTicks: (s: any) => { s.ticks = X_TICK_SEG.map((sg, i) => ({ value: toX(sg, X_TICK_AGE[i]) })); },
            grid: { display: true, drawOnChartArea: false, drawTicks: true, tickLength: 13, tickColor: GRAY, tickWidth: 3, color: GRAY },
            border: { display: true, color: GRAY, width: 4.5 },
            ticks: { autoSkip: false, maxRotation: 0, minRotation: 0, padding: 26, color: "#000", font: { family: FONT, size: 44 }, callback: (_v: any, i: number) => X_TICK_LABEL[i] },
          },
          y: {
            type: "linear",
            position: "left",
            min: -6,
            max: 15,
            afterFit: (s: any) => { s.width = R(X_MIN); },
            afterBuildTicks: (s: any) => { s.ticks = C_TICKS.map((v) => ({ value: v })); },
            grid: {
              drawTicks: true,
              tickLength: 11,
              tickColor: GRAY,
              tickWidth: 3.3,
              color: (c: any) => (c.tick && c.tick.value === 0 ? GRAY : c.tick && c.tick.value === -6 ? "rgba(0,0,0,0)" : "#e9e9e9"),
              lineWidth: (c: any) => (c.tick && c.tick.value === 0 ? 3 : 1.6),
            },
            border: { display: true, color: GRAY, width: 5 },
            ticks: { padding: 20, labelOffset: 3, color: "#000", font: { family: FONT, size: 36 }, callback: (v: any) => (v > 0 ? "+" + v : String(v)) },
          },
          y2: {
            type: "linear",
            position: "right",
            min: -6 * 1.8,
            max: 15 * 1.8,
            afterFit: (s: any) => { s.width = W - R(X_MAX); },
            afterBuildTicks: (s: any) => { s.ticks = F_TICKS.map((v) => ({ value: v })); },
            grid: { drawOnChartArea: false, drawTicks: true, tickLength: 10, tickColor: GRAY, tickWidth: 3.3 },
            border: { display: true, color: GRAY, width: 5 },
            ticks: { padding: 12, labelOffset: 3, color: "#000", font: { family: FONT, size: 36 }, callback: (v: any) => (v > 0 ? "+" + v : String(v)) },
          },
        },
      },
      plugins: [decorPlugin],
    } as any);
    return () => chart.destroy();
  }, []);
  return (
    <div style={{ position: "fixed", left: 0, top: 0, width: W, height: H, background: "#fff" }}>
      <canvas ref={ref} width={W} height={H} style={{ width: W, height: H, display: "block" }} />
    </div>
  );
}
